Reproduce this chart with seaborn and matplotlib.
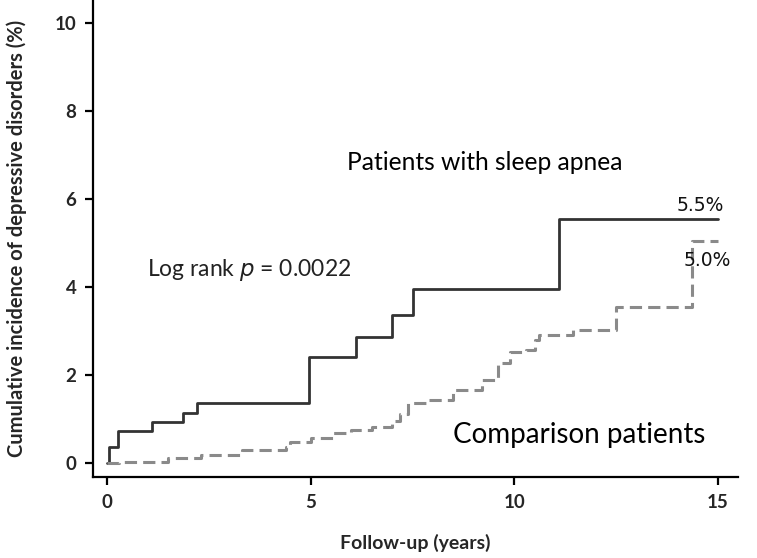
import pandas as pd
import matplotlib
matplotlib.use('Agg')
import matplotlib.pyplot as plt
import seaborn as sns

# Cumulative incidence (%)
apnea_years = [0, 0.05, 0.27, 1.1, 1.87, 2.2, 4.95, 6.1, 7.0, 7.5, 11.1, 15]
apnea_pct = [0, 0.36, 0.72, 0.92, 1.14, 1.36, 2.4, 2.85, 3.35, 3.95, 5.55, 5.55]

comp_years = [0, 0.3, 1.5, 2.3, 3.3, 4.4, 4.5, 5.0, 5.55, 6.0, 6.5, 7.0, 7.2, 7.4,
              7.9, 8.5, 9.2, 9.6, 9.9, 10.3, 10.5, 10.6, 11.45, 12.5, 14.37, 15]
comp_pct = [0, 0.03, 0.11, 0.18, 0.3, 0.36, 0.48, 0.57, 0.68, 0.75, 0.82, 0.95, 1.1, 1.36,
            1.43, 1.66, 1.89, 2.27, 2.52, 2.57, 2.8, 2.91, 3.02, 3.55, 5.05, 5.05]

x_ticks = [0, 5, 10, 15]
y_ticks = [0, 2, 4, 6, 8, 10]

apnea = pd.DataFrame({'years': apnea_years, 'pct': apnea_pct})
comp = pd.DataFrame({'years': comp_years, 'pct': comp_pct})

sns.set_style('white')
plt.rcParams['font.family'] = ['Lato', 'DejaVu Sans']

fig = plt.figure(figsize=(7.57, 5.58), dpi=100)
ax = fig.add_axes([0.1229, 0.1452, 0.975 - 0.1229, 0.8548])

sns.lineplot(data=apnea, x='years', y='pct', ax=ax, estimator=None, sort=False,
             drawstyle='steps-post', color='#333333', linewidth=2.0)
sns.lineplot(data=comp, x='years', y='pct', ax=ax, estimator=None, sort=False,
             drawstyle='steps-post', color='#8a8a8a', linewidth=2.2,
             dashes=False, linestyle=(0, (4, 2)))

ax.set_xlim(-0.35, 15.5)
ax.set_ylim(-0.32, 10.52)
ax.set_xticks(x_ticks)
ax.set_yticks(y_ticks)
ax.tick_params(axis='both', direction='out', length=6, width=1.6,
               labelsize=13.5, pad=6, color='black', bottom=True, left=True)
for lab in ax.get_xticklabels() + ax.get_yticklabels():
    lab.set_fontweight('bold')

for side in ['top', 'right']:
    ax.spines[side].set_visible(False)
for side in ['left', 'bottom']:
    ax.spines[side].set_color('black')
    ax.spines[side].set_linewidth(1.6)

ax.set_xlabel('Follow-up (years)', fontsize=14, fontweight='bold', labelpad=17)
ax.set_ylabel('Cumulative incidence of depressive disorders (%)', fontsize=14.5,
              fontweight='bold', labelpad=20)

ax.text(5.9, 6.65, 'Patients with sleep apnea', fontsize=17.7, color='black')
ax.text(0.98, 4.25, 'Log rank $\\it{p}$ = 0.0022', fontsize=16.5, color='#222222')
ax.text(8.5, 0.45, 'Comparison patients', fontsize=20, color='black')
ax.text(13.98, 5.72, '5.5%', fontsize=13.5, family='DejaVu Sans', color='#111111')
ax.text(14.15, 4.48, '5.0%', fontsize=13.5, family='DejaVu Sans', color='#111111')

fig.savefig('out.png', dpi=100)
